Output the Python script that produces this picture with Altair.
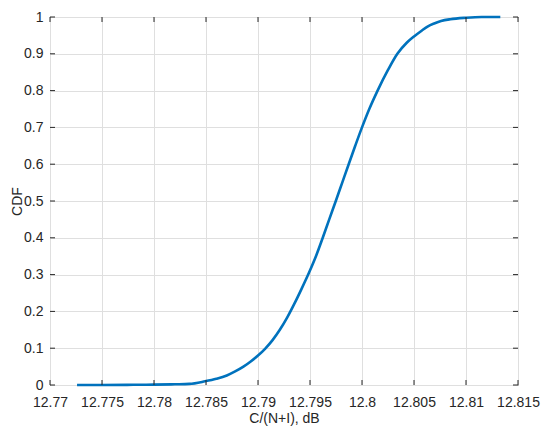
import altair as alt
import pandas as pd

# CDF curve
snr_db = [12.7726, 12.7750, 12.7780, 12.7800, 12.7820, 12.7834, 12.7849, 12.7860,
          12.7870, 12.7878, 12.7886, 12.7893, 12.7900, 12.7907, 12.7914, 12.7921,
          12.7928, 12.7935, 12.7942, 12.7949, 12.7956, 12.7962, 12.79685, 12.79748,
          12.7981, 12.79872, 12.79935, 12.8000, 12.8007, 12.8015, 12.8025, 12.8034,
          12.8043, 12.8050, 12.8057, 12.8063, 12.8070, 12.8076, 12.8085, 12.8100,
          12.8115, 12.8133]
cdf = [0.0, 0.0, 0.0005, 0.001, 0.002, 0.003, 0.010, 0.017,
       0.026, 0.037, 0.050, 0.064, 0.080, 0.099, 0.122, 0.150,
       0.183, 0.221, 0.262, 0.305, 0.352, 0.398, 0.450, 0.500,
       0.550, 0.600, 0.650, 0.700, 0.750, 0.800, 0.856, 0.900,
       0.930, 0.947, 0.962, 0.974, 0.983, 0.989, 0.994, 0.998,
       1.0, 1.0]

x_ticks = [12.77, 12.775, 12.78, 12.785, 12.79, 12.795, 12.8, 12.805, 12.81, 12.815]
y_ticks = [0, 0.1, 0.2, 0.3, 0.4, 0.5, 0.6, 0.7, 0.8, 0.9, 1.0]

W, H = 468, 368
AX = "#262626"
FONT = "Liberation Sans"

df = pd.DataFrame({"x": snr_db, "y": cdf})
dfx = pd.DataFrame({"x": x_ticks})
dfy = pd.DataFrame({"y": y_ticks})

xscale = alt.Scale(domain=[12.77, 12.815], nice=False, zero=False)
yscale = alt.Scale(domain=[0, 1], nice=False)
xaxis = alt.Axis(values=x_ticks, format="~g", title="C/(N+I), dB",
                 grid=True, ticks=False, tickSize=0, domain=False,
                 labelOverlap=False, labelFlush=False,
                 labelPadding=10, titlePadding=2)
yaxis = alt.Axis(values=y_ticks, format="~g", title="CDF",
                 grid=True, ticks=False, tickSize=0, domain=False,
                 labelOverlap=False, labelFlush=False, labelPadding=7,
                 titleX=-29, titleY=H / 2, titleAngle=270,
                 titleBaseline="alphabetic", titleAlign="center")

def X():
    return alt.X("x:Q", scale=xscale, axis=xaxis)

def Y():
    return alt.Y("y:Q", scale=yscale, axis=yaxis)

line = alt.Chart(df).mark_line(color="#0072BD", strokeWidth=2.6,
                               interpolate="monotone").encode(x=X(), y=Y())

xt_bottom = alt.Chart(dfx).mark_rule(color=AX, strokeWidth=1).encode(
    x=X(), y=alt.value(H), y2=alt.value(H - 5))
xt_top = alt.Chart(dfx).mark_rule(color=AX, strokeWidth=1).encode(
    x=X(), y=alt.value(0), y2=alt.value(5))
yt_left = alt.Chart(dfy).mark_rule(color=AX, strokeWidth=1).encode(
    y=Y(), x=alt.value(0), x2=alt.value(5))
yt_right = alt.Chart(dfy).mark_rule(color=AX, strokeWidth=1).encode(
    y=Y(), x=alt.value(W), x2=alt.value(W - 5))

chart = alt.layer(line, xt_bottom, xt_top, yt_left, yt_right).properties(
    width=W, height=H,
    autosize=alt.AutoSizeParams(type="none"),
    padding={"left": 42, "top": 9, "right": 24, "bottom": 50},
).configure_view(
    stroke=AX, strokeWidth=1
).configure_axis(
    gridColor="#dfdfdf", gridWidth=1,
    labelFont=FONT, labelFontSize=14, labelColor=AX,
    titleFont=FONT, titleFontSize=14, titleColor=AX, titleFontWeight="normal",
)

chart.save("out.html", embed_options={"renderer": "svg", "actions": False})
